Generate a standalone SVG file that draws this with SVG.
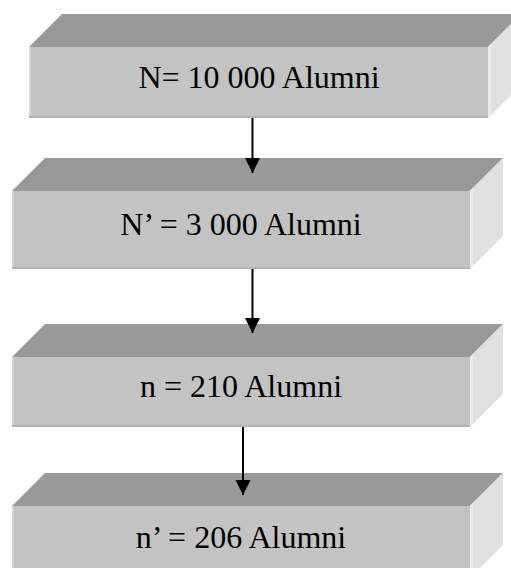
<svg xmlns="http://www.w3.org/2000/svg" width="511" height="568" viewBox="0 0 511 568">
  <style>
    .top { fill: #999999; }
    .front { fill: #c3c3c3; }
    .side { fill: #e0e0e0; }
    .edge-dark { fill: #b3b3b3; }
    .edge-light { fill: #d2d2d2; }
    .side-light { fill: #ebebeb; }
    .label { font-family: "Liberation Serif", "Times New Roman", serif; font-size: 32px; fill: #000000; text-anchor: middle; }
    .conn { stroke: #000000; stroke-width: 2; fill: none; }
  </style>
  <defs>
    <marker id="arrow" markerUnits="userSpaceOnUse" markerWidth="16" markerHeight="16" viewBox="0 0 16 16" refX="15" refY="8" orient="auto">
      <path d="M0,0.5 L15,8 L0,15.5 Z" fill="#000000"/>
    </marker>
  </defs>

  <!-- Box 1 -->
  <g id="node-N">
    <polygon class="top" points="29,47 62,14 521,14 488,47"/>
    <polygon class="side" points="488,47 521,14 521,85 488,118"/>
    <polygon class="side-light" points="488,47 491,44 491,115 488,118"/>
    <rect class="front" x="29" y="47" width="459" height="71"/>
    <rect class="edge-light" x="29" y="47" width="2" height="71"/>
    <rect class="edge-dark" x="29" y="116" width="459" height="2"/>
    <text class="label" x="259" y="88">N= 10 000 Alumni</text>
  </g>

  <!-- Box 2 -->
  <g id="node-N-prime">
    <polygon class="top" points="12,191 45,158 503,158 470,191"/>
    <polygon class="side" points="470,191 503,158 503,236 470,269"/>
    <polygon class="side-light" points="470,191 473,188 473,266 470,269"/>
    <rect class="front" x="12" y="191" width="458" height="78"/>
    <rect class="edge-light" x="12" y="191" width="2" height="78"/>
    <rect class="edge-dark" x="12" y="267" width="458" height="2"/>
    <text class="label" x="241" y="235">N’ = 3 000 Alumni</text>
  </g>

  <!-- Box 3 -->
  <g id="node-n">
    <polygon class="top" points="12,357 45,324 503,324 470,357"/>
    <polygon class="side" points="470,357 503,324 503,394 470,427"/>
    <polygon class="side-light" points="470,357 473,354 473,424 470,427"/>
    <rect class="front" x="12" y="357" width="458" height="70"/>
    <rect class="edge-light" x="12" y="357" width="2" height="70"/>
    <rect class="edge-dark" x="12" y="425" width="458" height="2"/>
    <text class="label" x="241" y="397">n = 210 Alumni</text>
  </g>

  <!-- Box 4 -->
  <g id="node-n-prime">
    <polygon class="top" points="12,506 45,473 503,473 470,506"/>
    <polygon class="side" points="470,506 503,473 503,545 470,578"/>
    <polygon class="side-light" points="470,506 473,503 473,578 470,578"/>
    <rect class="front" x="12" y="506" width="458" height="72"/>
    <rect class="edge-light" x="12" y="506" width="2" height="72"/>
    <text class="label" x="241" y="548">n’ = 206 Alumni</text>
  </g>

  <!-- Connectors -->
  <g id="connectors">
    <line class="conn" x1="252.5" y1="118" x2="252.5" y2="173" marker-end="url(#arrow)"/>
    <line class="conn" x1="252.5" y1="269" x2="252.5" y2="333" marker-end="url(#arrow)"/>
    <line class="conn" x1="243" y1="427" x2="243" y2="495" marker-end="url(#arrow)"/>
  </g>
</svg>
